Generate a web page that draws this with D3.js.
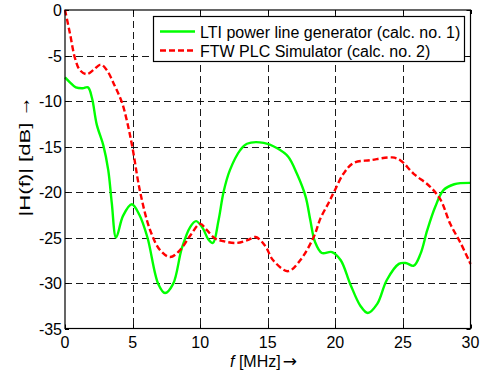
<!DOCTYPE html>
<html><head><meta charset="utf-8">
<script src="https://cdn.jsdelivr.net/npm/d3@7"></script>
<style>
html,body{margin:0;padding:0;background:#fff;}
text{font-family:"Liberation Sans",Arial,sans-serif;}
</style></head>
<body><svg id="c" width="489" height="374"></svg>
<script>
const xTicks = [0, 5, 10, 15, 20, 25, 30];
const yTicks = [0, -5, -10, -15, -20, -25, -30, -35];
const seriesNames = ["LTI power line generator (calc. no. 1)", "FTW PLC Simulator (calc. no. 2)"];

const ltiFreq = [0,0.4,0.8,1.3,1.7,2.0,2.35,2.84,3.2,3.46,3.78,4.3,4.94,5.5,6.1,6.9,7.4,8.0,8.64,9.26,9.7,10.2,10.6,10.94,11.36,11.73,12.2,12.96,13.46,14.7,15.7,16.5,17.16,17.8,18.15,18.5,19.0,19.75,20.4,21.1,21.85,22.4,23.1,23.8,24.7,25.2,25.8,26.3,26.8,27.4,28.0,28.8,30];
const ltiGain = [-7.4,-8.0,-8.5,-8.6,-8.5,-9.7,-12.6,-14.9,-17.6,-21.2,-25.0,-22.6,-21.35,-22.5,-25.0,-30.1,-31.1,-30.1,-26.2,-23.85,-23.2,-24.0,-25.2,-25.6,-23.1,-20.0,-17.6,-15.4,-14.7,-14.6,-15.2,-16.1,-18.0,-20.5,-23.1,-25.5,-26.7,-26.6,-27.5,-30.1,-32.5,-33.3,-32.3,-29.7,-27.9,-27.8,-28.1,-26.8,-24.2,-21.6,-19.8,-19.15,-19.0];

const ftwFreq = [0,0.37,0.74,1.1,1.6,2.1,2.64,3.09,3.7,4.2,4.6,5.0,5.56,6.3,7.04,7.78,8.5,9.26,10.0,10.5,11.1,11.7,12.7,13.5,14.1,14.8,15.4,16.5,17.4,18.4,18.9,19.5,19.9,20.6,21.35,22.6,24.2,24.8,25.8,27.0,27.8,28.5,29.3,30];
const ftwGain = [0,-2.6,-5.3,-6.6,-7.05,-6.6,-6.0,-6.6,-8.4,-10.1,-12.3,-15.2,-20.0,-24.2,-26.4,-27.15,-26.4,-24.8,-23.5,-24.2,-25.1,-25.4,-25.6,-25.3,-24.95,-25.9,-27.5,-28.7,-27.5,-24.95,-22.9,-21.2,-20.0,-18.0,-16.8,-16.5,-16.2,-16.5,-18.0,-19.4,-20.9,-23.5,-25.7,-27.9];

const svg = d3.select("#c");
const L = 65, R = 470.5, T = 10, B = 328.5;
const x = d3.scaleLinear().domain([0, 30]).range([L, R]);
const y = d3.scaleLinear().domain([-35, 0]).range([B, T]);

// grid
const g = svg.append("g");
g.selectAll(".vg").data(xTicks.filter(d => d > 0 && d < 30)).enter().append("line")
  .attr("x1", d => Math.round(x(d)) + 0.5).attr("x2", d => Math.round(x(d)) + 0.5)
  .attr("y1", T).attr("y2", B)
  .attr("stroke", "#000").attr("stroke-width", 0.9).attr("stroke-dasharray", "7,4");
g.selectAll(".hg").data(yTicks.filter(d => d < 0 && d > -35)).enter().append("line")
  .attr("y1", d => Math.round(y(d)) + 0.5).attr("y2", d => Math.round(y(d)) + 0.5)
  .attr("x1", L).attr("x2", R)
  .attr("stroke", "#000").attr("stroke-width", 0.9).attr("stroke-dasharray", "7,4");

// ticks (inward, all sides)
const tl = 4;
xTicks.forEach(d => {
  const px = Math.round(x(d)) + 0.5;
  g.append("line").attr("x1", px).attr("x2", px).attr("y1", B).attr("y2", B - tl).attr("stroke", "#000");
  g.append("line").attr("x1", px).attr("x2", px).attr("y1", T).attr("y2", T + tl).attr("stroke", "#000");
});
yTicks.forEach(d => {
  const py = Math.round(y(d)) + 0.5;
  g.append("line").attr("x1", L).attr("x2", L + tl).attr("y1", py).attr("y2", py).attr("stroke", "#000");
  g.append("line").attr("x1", R).attr("x2", R - tl).attr("y1", py).attr("y2", py).attr("stroke", "#000");
});

// lines
const line = (fx, gy) => d3.line().x((d, i) => x(fx[i])).y((d, i) => y(gy[i])).curve(d3.curveCatmullRom.alpha(0.5))(gy);
svg.append("path").attr("d", line(ltiFreq, ltiGain)).attr("fill", "none")
  .attr("stroke", "#00ff00").attr("stroke-width", 2.4);
svg.append("path").attr("d", line(ftwFreq, ftwGain)).attr("fill", "none")
  .attr("stroke", "#ff0000").attr("stroke-width", 2.4).attr("stroke-dasharray", "6,3");

// box
svg.append("rect").attr("x", L).attr("y", T).attr("width", R - L).attr("height", B - T)
  .attr("fill", "none").attr("stroke", "#000").attr("stroke-width", 1.2);

// tick labels
svg.selectAll(".xl").data(xTicks).enter().append("text")
  .attr("x", d => x(d)).attr("y", B + 19).attr("text-anchor", "middle")
  .attr("font-size", 16).text(d => d);
svg.selectAll(".yl").data(yTicks).enter().append("text")
  .attr("x", L - 3).attr("y", d => y(d) + 6).attr("text-anchor", "end")
  .attr("font-size", 16).text(d => d);

// axis labels
const xl = svg.append("text").attr("x", 230).attr("y", 367).attr("text-anchor", "start").attr("font-size", 16);
xl.append("tspan").attr("font-style", "italic").text("f");
xl.append("tspan").text(" [MHz]");
xl.append("tspan").attr("dx", 2).attr("font-family", "DejaVu Sans").attr("font-size", 17).text("\u2192");

svg.append("text").attr("transform", "translate(30,169.5) rotate(-90)").attr("text-anchor", "middle")
  .attr("font-size", 15).attr("textLength", 94).attr("lengthAdjust", "spacingAndGlyphs")
  .text("|H(f)| [dB]");
svg.append("text").attr("transform", "translate(29.5,106.5) rotate(-90)").attr("text-anchor", "middle")
  .attr("font-size", 20).attr("font-family", "DejaVu Sans").text("\u2192");

// legend
const lg = svg.append("g");
lg.append("rect").attr("x", 153.5).attr("y", 16.5).attr("width", 311).attr("height", 45)
  .attr("fill", "#fff").attr("stroke", "#000").attr("stroke-width", 1.2);
const colors = ["#00ff00", "#ff0000"];
seriesNames.forEach((n, i) => {
  const cy = 31.5 + i * 19;
  lg.append("line").attr("x1", 160).attr("x2", 195).attr("y1", cy).attr("y2", cy)
    .attr("stroke", colors[i]).attr("stroke-width", 2.4).attr("stroke-dasharray", i ? "6,3" : null);
  lg.append("text").attr("x", 200).attr("y", cy + 6).attr("font-size", 16).text(n);
});
</script></body></html>
